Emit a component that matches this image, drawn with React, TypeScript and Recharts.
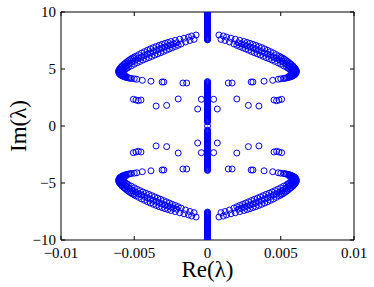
import React from 'react';
import { ScatterChart, Scatter, XAxis, YAxis } from 'recharts';

// Eigenvalues in the upper-left quadrant (Re < 0, Im > 0).
// The spectrum is symmetric in Re and Im, so the other quadrants are mirrored.
const arcOuter: [number, number][] = [
  [-0.00078, 7.98], [-0.00108, 7.9], [-0.0013, 7.8], [-0.0016, 7.7], [-0.0019, 7.61],
  [-0.0022, 7.51], [-0.0025, 7.41], [-0.0027, 7.33], [-0.0029, 7.25], [-0.0031, 7.16],
  [-0.0033, 7.07], [-0.0035, 6.97], [-0.0037, 6.87], [-0.0039, 6.76], [-0.0041, 6.64],
  [-0.0043, 6.52], [-0.0045, 6.4], [-0.0047, 6.26], [-0.0049, 6.12], [-0.005, 6.04],
  [-0.0051, 5.97], [-0.0052, 5.9], [-0.0053, 5.81], [-0.0054, 5.72], [-0.0055, 5.62],
  [-0.0056, 5.52], [-0.0057, 5.41], [-0.0058, 5.3], [-0.00585, 5.22], [-0.0059, 5.15],
  [-0.00595, 5.07], [-0.006, 5.0], [-0.00603, 4.93], [-0.00605, 4.86], [-0.00606, 4.8],
  [-0.00606, 4.74], [-0.00604, 4.68], [-0.00602, 4.62], [-0.00599, 4.56], [-0.00595, 4.51],
  [-0.0059, 4.46], [-0.00585, 4.42], [-0.00579, 4.38], [-0.00572, 4.34], [-0.00564, 4.3],
  [-0.00556, 4.27], [-0.00547, 4.24], [-0.00538, 4.22], [-0.00529, 4.19], [-0.0052, 4.17],
  [-0.005, 4.14], [-0.00483, 4.1],
];

const arcMid: [number, number][] = [
  [-0.0021, 7.3], [-0.0023, 7.2], [-0.0025, 7.12], [-0.0027, 7.03], [-0.0029, 6.93],
  [-0.0031, 6.83], [-0.0033, 6.72], [-0.0035, 6.62], [-0.0037, 6.52], [-0.0039, 6.41],
  [-0.0041, 6.3], [-0.0043, 6.18], [-0.0045, 6.05], [-0.0047, 5.93], [-0.0049, 5.8],
  [-0.0051, 5.66], [-0.0053, 5.5], [-0.0054, 5.42], [-0.0055, 5.34], [-0.0056, 5.25],
  [-0.0057, 5.15], [-0.0058, 5.05], [-0.0059, 4.9], [-0.00595, 4.78], [-0.0059, 4.66],
];

const arcInner: [number, number][] = [
  [-0.00092, 7.6], [-0.0012, 7.5], [-0.0015, 7.37], [-0.0018, 7.2], [-0.002, 7.08],
  [-0.0022, 6.97], [-0.0024, 6.87], [-0.0026, 6.76], [-0.0028, 6.65], [-0.003, 6.54],
  [-0.0032, 6.43], [-0.0034, 6.33], [-0.0036, 6.22], [-0.0038, 6.11], [-0.004, 6.0],
  [-0.0042, 5.9], [-0.0044, 5.79], [-0.0046, 5.67], [-0.0048, 5.55], [-0.005, 5.42],
  [-0.0052, 5.28], [-0.0054, 5.15], [-0.0055, 5.07], [-0.0056, 5.0], [-0.0057, 4.92],
  [-0.0058, 4.85], [-0.00585, 4.75], [-0.0058, 4.62], [-0.0057, 4.5], [-0.0056, 4.42],
];

const tail: [number, number][] = [
  [-0.00445, 4.01], [-0.00386, 3.93], [-0.0031, 3.86], [-0.00298, 3.86],
  [-0.00168, 3.77], [-0.00142, 3.77],
];

const scattered: [number, number][] = [
  [-0.00506, 2.34], [-0.00488, 2.28], [-0.00472, 2.22], [-0.00454, 2.28],
  [-0.00351, 1.75], [-0.00279, 1.81], [-0.002, 2.37], [-0.00067, 1.49], [-0.00042, 2.34],
];

// purely imaginary eigenvalues (Re = 0), positive half
const columnTop = [
  7.55, 7.6, 7.65, 7.7, 7.75, 7.8, 7.86, 7.92, 7.98, 8.04, 8.1, 8.16, 8.22, 8.28, 8.34,
  8.4, 8.46, 8.52, 8.58, 8.64, 8.7, 8.76, 8.82, 8.88, 8.94, 9.0, 9.06, 9.12, 9.18, 9.24,
  9.3, 9.36, 9.42, 9.48, 9.54, 9.6, 9.66, 9.72, 9.78, 9.84, 9.9, 9.95, 10.0,
];
const columnMid = [
  0.36, 0.42, 0.48, 0.54, 0.6, 0.66, 0.72, 0.78, 0.84, 0.9, 0.96, 1.02, 1.08, 1.14, 1.2,
  1.26, 1.32, 1.38, 1.44, 1.5, 1.56, 1.62, 1.68, 1.74, 1.8, 1.86, 1.92, 1.98, 2.04, 2.1,
  2.16, 2.22, 2.28, 2.34, 2.4, 2.46, 2.52, 2.58, 2.64, 2.7, 2.76, 2.82, 2.88, 2.94, 3.0,
  3.06, 3.12, 3.18, 3.24, 3.3, 3.36, 3.42, 3.48, 3.54, 3.6, 3.66, 3.72, 3.78, 3.84, 3.9,
];
const origin = [0];

const xTicks = [-0.01, -0.005, 0, 0.005, 0.01];
const yTicks = [-10, -5, 0, 5, 10];

const quad = (pts: [number, number][]) =>
  pts.flatMap(([x, y]) => [
    { x, y },
    { x: -x, y },
    { x, y: -y },
    { x: -x, y: -y },
  ]);
const onAxis = (ys: number[]) =>
  ys.flatMap((y) => (y === 0 ? [{ x: 0, y: 0 }] : [{ x: 0, y }, { x: 0, y: -y }]));

const data = [
  ...quad(arcOuter),
  ...quad(arcMid),
  ...quad(arcInner),
  ...quad(tail),
  ...quad(scattered),
  ...onAxis(columnTop),
  ...onAxis(columnMid),
  ...onAxis(origin),
];

const fmt = (v: number) => (v < 0 ? '\u2212' + Math.abs(v) : String(v));
const blank = () => '';

const Ring = (props: any) => (
  <circle cx={props.cx} cy={props.cy} r={3} fill="none" stroke="#0000ff" strokeWidth={1} />
);
const Nothing = () => <g />;

const FONT = '"Liberation Serif", "DejaVu Serif", serif';
const tickStyle = { fill: '#000', fontSize: 15, fontFamily: FONT };

export default function App() {
  return (
    <div style={{ position: 'absolute', left: 0, top: 0, background: '#fff' }}>
      <ScatterChart width={374} height={287} margin={{ top: 11, right: 19, bottom: 0, left: 0 }}>
        <XAxis
          dataKey="x"
          type="number"
          domain={[-0.01, 0.01]}
          ticks={xTicks}
          allowDataOverflow
          height={47}
          tickSize={-4}
          tickMargin={11}
          tickFormatter={fmt}
          tick={tickStyle}
          axisLine={{ stroke: '#000' }}
          tickLine={{ stroke: '#000' }}
          label={{
            value: 'Re(\u03bb)',
            position: 'insideBottom',
            offset: 10,
            style: { fill: '#000', fontSize: 23, fontFamily: FONT },
          }}
        />
        {/* box: top edge with inward ticks, no labels */}
        <XAxis
          xAxisId="top"
          dataKey="x"
          orientation="top"
          type="number"
          domain={[-0.01, 0.01]}
          ticks={xTicks}
          allowDataOverflow
          height={1}
          tickSize={-4}
          tickFormatter={blank}
          axisLine={{ stroke: '#000' }}
          tickLine={{ stroke: '#000' }}
        />
        <YAxis
          dataKey="y"
          type="number"
          domain={[-10, 10]}
          ticks={yTicks}
          allowDataOverflow
          width={61}
          tickSize={-4}
          tickMargin={9}
          tickFormatter={fmt}
          tick={tickStyle}
          axisLine={{ stroke: '#000' }}
          tickLine={{ stroke: '#000' }}
          label={{
            value: 'Im(\u03bb)',
            angle: -90,
            position: 'insideLeft',
            offset: 18,
            style: { fill: '#000', fontSize: 23, fontFamily: FONT, textAnchor: 'middle' },
          }}
        />
        {/* box: right edge */}
        <YAxis
          yAxisId="right"
          dataKey="y"
          orientation="right"
          type="number"
          domain={[-10, 10]}
          ticks={yTicks}
          allowDataOverflow
          width={1}
          tickSize={-4}
          tickFormatter={blank}
          axisLine={{ stroke: '#000' }}
          tickLine={{ stroke: '#000' }}
        />
        <Scatter data={data} shape={Ring} isAnimationActive={false} />
        <Scatter
          data={data}
          xAxisId="top"
          yAxisId="right"
          shape={Nothing}
          isAnimationActive={false}
        />
      </ScatterChart>
    </div>
  );
}
